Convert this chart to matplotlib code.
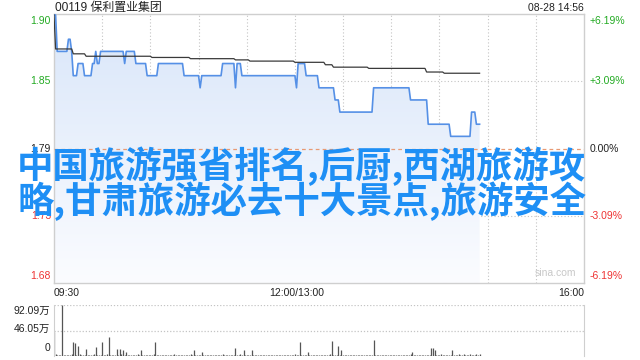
import numpy as np
import matplotlib
matplotlib.use("Agg")
import matplotlib.pyplot as plt
from matplotlib.colors import LinearSegmentedColormap

plt.rcParams['font.family'] = ['Liberation Sans', 'Noto Sans CJK SC', 'DejaVu Sans']

# ---------------- data ----------------
title = "00119 保利置业集团"
stamp = "08-28 14:56"
prev_close = 1.79
pct_max = 6.19
price_labels = ["1.90", "1.85", "1.79", "1.73", "1.68"]
pct_labels = ["+6.19%", "+3.09%", "0.00%", "-3.09%", "-6.19%"]
time_labels = ["09:30", "12:00/13:00", "16:00"]
vol_labels = ["92.09万", "46.05万", "0"]
vol_max = 92.09
overlay_lines = ["中国旅游强省排名,后厨,西湖旅游攻", "略,甘肃旅游必去十大景点,旅游安全"]

# price per minute, as (value, number of minutes) runs
price_runs = [(1.90, 2), (1.87, 7), (1.88, 2), (1.87, 1), (1.85, 3), (1.86, 4), (1.85, 5),
              (1.86, 2), (1.87, 1), (1.86, 2), (1.87, 15), (1.86, 1), (1.87, 6), (1.86, 7),
              (1.85, 7), (1.86, 16), (1.85, 10), (1.84, 1), (1.85, 13), (1.86, 8), (1.84, 1),
              (1.86, 3), (1.85, 34), (1.84, 1), (1.86, 5), (1.85, 8), (1.84, 10), (1.83, 3),
              (1.82, 21), (1.84, 23), (1.83, 11), (1.81, 14), (1.80, 13), (1.82, 3), (1.81, 3)]
avg_runs = [(1.900, 1), (1.872, 11), (1.868, 8), (1.866, 41), (1.865, 24), (1.864, 28),
            (1.863, 9), (1.862, 28), (1.861, 19), (1.859, 5), (1.857, 22), (1.856, 36),
            (1.853, 11), (1.852, 23)]
volume = [43, 3, 2, 1, 2, 92.09, 2, 1, 1, 2,
          1, 3, 26, 24, 2, 18, 3, 1, 2, 2,
          12, 2, 1, 2, 1, 3, 17, 2, 1, 2,
          26, 2, 1, 3, 35, 2, 1, 2, 1, 12,
          2, 12, 3, 10, 2, 8, 1, 2, 1, 2,
          1, 2, 3, 1, 10, 2, 1, 2, 1, 1,
          2, 1, 3, 26, 2, 1, 1, 2, 1, 2,
          1, 2, 1, 1, 2, 3, 1, 2, 1, 1,
          2, 1, 1, 2, 1, 3, 2, 10, 1, 2,
          1, 2, 7, 1, 2, 1, 1, 2, 1, 2,
          1, 2, 1, 1, 2, 3, 1, 2, 1, 2,
          1, 2, 1, 14, 2, 1, 3, 2, 10, 1,
          2, 1, 2, 10, 1, 2, 1, 1, 2, 1,
          2, 1, 1, 2, 1, 2, 1, 1, 2, 1,
          1, 2, 1, 2, 1, 1, 2, 1, 2, 1,
          3, 2, 1, 25, 2, 1, 2, 1, 8, 2,
          1, 2, 1, 1, 2, 1, 2, 1, 1, 2,
          1, 2, 3, 27, 2, 1, 2, 18, 2, 10,
          1, 2, 1, 2, 1, 1, 2, 1, 2, 1,
          2, 1, 1, 2, 1, 2, 1, 2, 1, 29,
          2, 1, 2, 1, 1, 2, 1, 2, 1, 1,
          2, 1, 2, 1, 1, 2, 1, 2, 1, 2,
          1, 2, 3, 8, 2, 1, 2, 1, 1, 2,
          1, 2, 1, 2, 1, 14, 14, 10, 2, 1,
          2, 3, 2, 1, 2, 1, 2, 1, 10, 2,
          1, 2, 3, 2, 1, 4, 2, 1, 2, 3,
          2, 1, 2, 3, 2, 4]
session_minutes = 330

# ---------------- derived ----------------
price = np.concatenate([np.full(n, v) for v, n in price_runs])
avg = np.concatenate([np.full(n, v) for v, n in avg_runs])
minutes = np.arange(len(price))
vmin = prev_close * (1 - pct_max / 100)
vmax = prev_close * (1 + pct_max / 100)
levels = np.linspace(vmax, vmin, 5)

GREEN = "#22aa22"
RED = "#ee3333"
GRID = "#c4c4c4"
SPINE = "#cfcfcf"

fig = plt.figure(figsize=(6.4, 3.6), dpi=100)
ax = fig.add_axes([54 / 640, 77 / 360, 530 / 640, 269 / 360])
axv = fig.add_axes([54 / 640, 4 / 360, 530 / 640, 51 / 360])

ax.set_xlim(0, session_minutes)
ax.set_ylim(vmin, vmax)
for s in ax.spines.values():
    s.set_color(SPINE)
    s.set_linewidth(1)
ax.set_xticks([])
ax.set_yticks([])

# grid
for t in range(30, session_minutes, 30):
    ax.axvline(t, color=GRID, lw=0.8, ls=(0, (1, 2)), zorder=1)
for i, lv in enumerate(levels[1:-1]):
    if i == 1:
        ax.axhline(lv, color="#e89a74", lw=0.9, ls=(0, (3, 2.5)), zorder=4)
    else:
        ax.axhline(lv, color=GRID, lw=0.8, ls=(0, (1, 2)), zorder=1)

# gradient fill under price
cmap = LinearSegmentedColormap.from_list("g", ["#fbfcff", "#d9e6f9"])
grad = np.linspace(0, 1, 256).reshape(-1, 1)
im = ax.imshow(grad, extent=[0, session_minutes, vmin, vmax], origin="lower",
               cmap=cmap, aspect="auto", zorder=2)
poly = ax.fill_between(minutes, price, vmin, color="none", lw=0)
im.set_clip_path(poly.get_paths()[0], transform=ax.transData)

ax.plot(minutes, price, color="#5590e6", lw=1.2, zorder=5)
ax.plot(minutes, avg, color="#3a3a3a", lw=0.9, zorder=5)

# price labels
for i, (lv, pl, cl) in enumerate(zip(levels, price_labels, pct_labels)):
    col = GREEN if i < 2 else ("#222222" if i == 2 else RED)
    va = "top" if i == 0 else ("bottom" if i == 4 else "center")
    off = -2 if i == 0 else (2 if i == 4 else 0)
    y = ax.transData.transform((0, lv))[1]
    fig.text(51 / 640, (y + off) / 360, pl, color=col, ha="right", va=va, fontsize=7.5)
    fig.text(590 / 640, (y + off) / 360, cl, color=col, ha="left", va=va, fontsize=7.5)

# title, stamp
fig.text(55 / 640, 352 / 360, title, ha="left", va="center", fontsize=8.6, color="#222222")
fig.text(584 / 640, 352 / 360, stamp, ha="right", va="center", fontsize=7.5, color="#222222")

# time labels
fig.text(54 / 640, 67 / 360, time_labels[0], ha="left", va="center", fontsize=7.5, color="#222222")
fig.text(297 / 640, 67 / 360, time_labels[1], ha="center", va="center", fontsize=7.5, color="#222222")
fig.text(584 / 640, 67 / 360, time_labels[2], ha="right", va="center", fontsize=7.5, color="#222222")

ax.text(0.985, 0.02, "sina.com", transform=ax.transAxes, ha="right", va="bottom",
        fontsize=7.5, color="#c8c8c8", zorder=6)

# volume panel
axv.set_xlim(0, session_minutes)
axv.set_ylim(0, vol_max)
axv.set_xticks([])
axv.set_yticks([])
for k in ["top", "bottom"]:
    axv.spines[k].set_visible(False)
for k in ["left", "right"]:
    axv.spines[k].set_color(SPINE)
axv.axhline(vol_max, color=GRID, lw=0.9, ls=(0, (1, 1.5)))
axv.axhline(vol_max / 2, color=GRID, lw=0.9, ls=(0, (1, 1.5)))
axv.vlines(minutes, 0, volume, color="#555555", lw=0.9)
fig.text(50 / 640, 49 / 360, vol_labels[0], ha="right", va="center", fontsize=7.5, color="#222222")
fig.text(50 / 640, 31 / 360, vol_labels[1], ha="right", va="center", fontsize=7.5, color="#222222")
fig.text(50 / 640, 12 / 360, vol_labels[2], ha="right", va="center", fontsize=7.5, color="#222222")

# overlay text
for j, line in enumerate(overlay_lines):
    fig.text(17 / 640, (360 - 166 - 35 * j) / 360, line, ha="left", va="center",
             fontsize=26.2, color="#1e8ff5", fontweight="bold",
             family=["Noto Sans CJK SC", "DejaVu Sans"], zorder=10)

fig.savefig("out.png", dpi=100)
